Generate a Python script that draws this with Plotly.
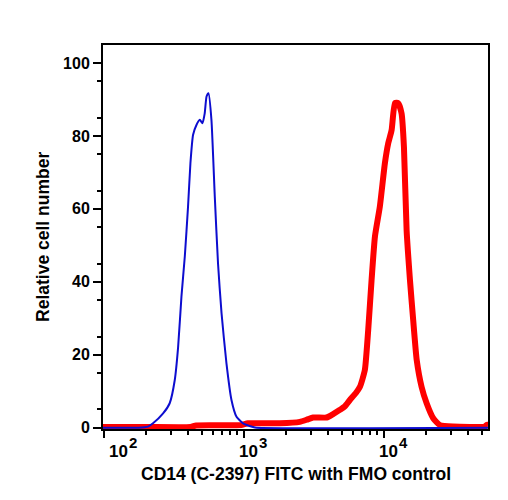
import numpy as np
import plotly.graph_objects as go

# FMO control (blue) : log10(FITC) and relative cell number
fmo_log_fitc = [1.995, 2.25, 2.316, 2.352, 2.424, 2.471, 2.507, 2.531, 2.555, 2.579, 2.602,
                2.619, 2.638, 2.662, 2.686, 2.705, 2.721, 2.734, 2.748, 2.769, 2.793, 2.816,
                2.841, 2.876, 2.912, 2.948, 2.995, 3.066, 3.09, 4.743]
fmo_count = [0, 0, 0.3, 1.2, 3.9, 6.7, 13, 22, 36, 47, 60.6,
             72.5, 80.3, 83, 84.4, 83.5, 86.2, 90.8, 91.7, 84.4, 63.3, 45,
             31.4, 17.7, 7.6, 3, 1.2, 0.2, 0, 0]

# CD14 stained (red)
cd14_log_fitc = [1.995, 2.3, 2.62, 2.66, 2.98, 3.03, 3.257, 3.4, 3.45, 3.495, 3.591, 3.64,
                 3.686, 3.72, 3.757, 3.8, 3.829, 3.864, 3.888, 3.912, 3.936, 3.971, 4.007,
                 4.031, 4.055, 4.079, 4.102, 4.126, 4.143, 4.162, 4.186, 4.209, 4.234, 4.269,
                 4.305, 4.352, 4.4, 4.495, 4.72, 4.735, 4.743]
cd14_count = [0.2, 0.2, 0.2, 0.6, 0.7, 1.2, 1.2, 1.6, 2.2, 2.8, 2.8, 3.8,
              4.9, 5.8, 7.6, 9.5, 11.2, 15.8, 26.8, 40.5, 52.4, 60.6, 72.5,
              78, 81.6, 89, 89, 86.2, 77, 54.2, 40.5, 29.5, 18.6, 11.2,
              6.7, 2.6, 0.7, 0.3, 0.3, 0.8, 0.8]

x_major_vals = [100, 1000, 10000]
x_major_base = ["10", "10", "10"]
x_major_exp = ["2", "3", "4"]
x_minor_vals = [m * 10 ** e for e in (2, 3, 4) for m in range(2, 10) if m * 10 ** e < 56000]
y_major_vals = [0, 20, 40, 60, 80, 100]
y_minor_vals = list(range(5, 105, 10))

x_title = "CD14 (C-2397) FITC with FMO control"
y_title = "Relative cell number"

FONT = "Liberation Sans"

fig = go.Figure()
fig.add_trace(go.Scatter(x=10 ** np.array(cd14_log_fitc), y=cd14_count, mode="lines",
                         line=dict(color="#ff0000", width=6, shape="spline", smoothing=0.5),
                         showlegend=False))
fig.add_trace(go.Scatter(x=10 ** np.array(fmo_log_fitc), y=fmo_count, mode="lines",
                         line=dict(color="#0d0dcf", width=2, shape="spline", smoothing=0.5),
                         showlegend=False))

fig.update_xaxes(type="log", range=[1.995, 4.743], showline=True, linecolor="black",
                 linewidth=2, mirror=True, showgrid=False, zeroline=False,
                 tickvals=x_major_vals, ticktext=["", "", ""], ticks="outside",
                 ticklen=7, tickwidth=2, tickcolor="black",
                 minor=dict(tickvals=x_minor_vals, ticks="outside", ticklen=4,
                            tickwidth=1.5, tickcolor="black", showgrid=False))
fig.update_yaxes(range=[-0.36, 104.93], showline=True, linecolor="black", linewidth=2,
                 mirror=True, showgrid=False, zeroline=False,
                 tickvals=y_major_vals, ticks="outside", ticklen=8, tickwidth=2,
                 tickcolor="black",
                 tickfont=dict(family=FONT, size=16, color="black", weight="bold"),
                 minor=dict(tickvals=y_minor_vals, ticks="outside", ticklen=4,
                            tickwidth=1.5, tickcolor="black", showgrid=False))

base_shift = [4, -6, -6]
for v, b, e, s in zip(x_major_vals, x_major_base, x_major_exp, base_shift):
    fig.add_annotation(x=np.log10(v), xref="x", y=-0.0573, yref="paper", text=b,
                       showarrow=False, xanchor="left", yanchor="middle", xshift=s,
                       borderpad=0,
                       font=dict(family=FONT, size=17, color="black", weight="bold"))
    fig.add_annotation(x=np.log10(v), xref="x", y=-0.0346, yref="paper", text=e,
                       showarrow=False, xanchor="left", yanchor="middle", xshift=s + 20,
                       borderpad=0,
                       font=dict(family=FONT, size=15, color="black", weight="bold"))

fig.add_annotation(x=0.5, xref="paper", y=-0.117, yref="paper", text=x_title,
                   showarrow=False, xanchor="center", yanchor="middle",
                   font=dict(family=FONT, size=17.5, color="black", weight="bold"))
fig.add_annotation(x=-0.156, xref="paper", y=0.5, yref="paper", text=y_title,
                   textangle=-90, showarrow=False, xanchor="center", yanchor="middle",
                   font=dict(family=FONT, size=17.5, color="black", weight="bold"))

fig.update_layout(width=508, height=500, margin=dict(l=103, r=20, t=45, b=71),
                  plot_bgcolor="white", paper_bgcolor="white")

fig.write_html("out.html")
